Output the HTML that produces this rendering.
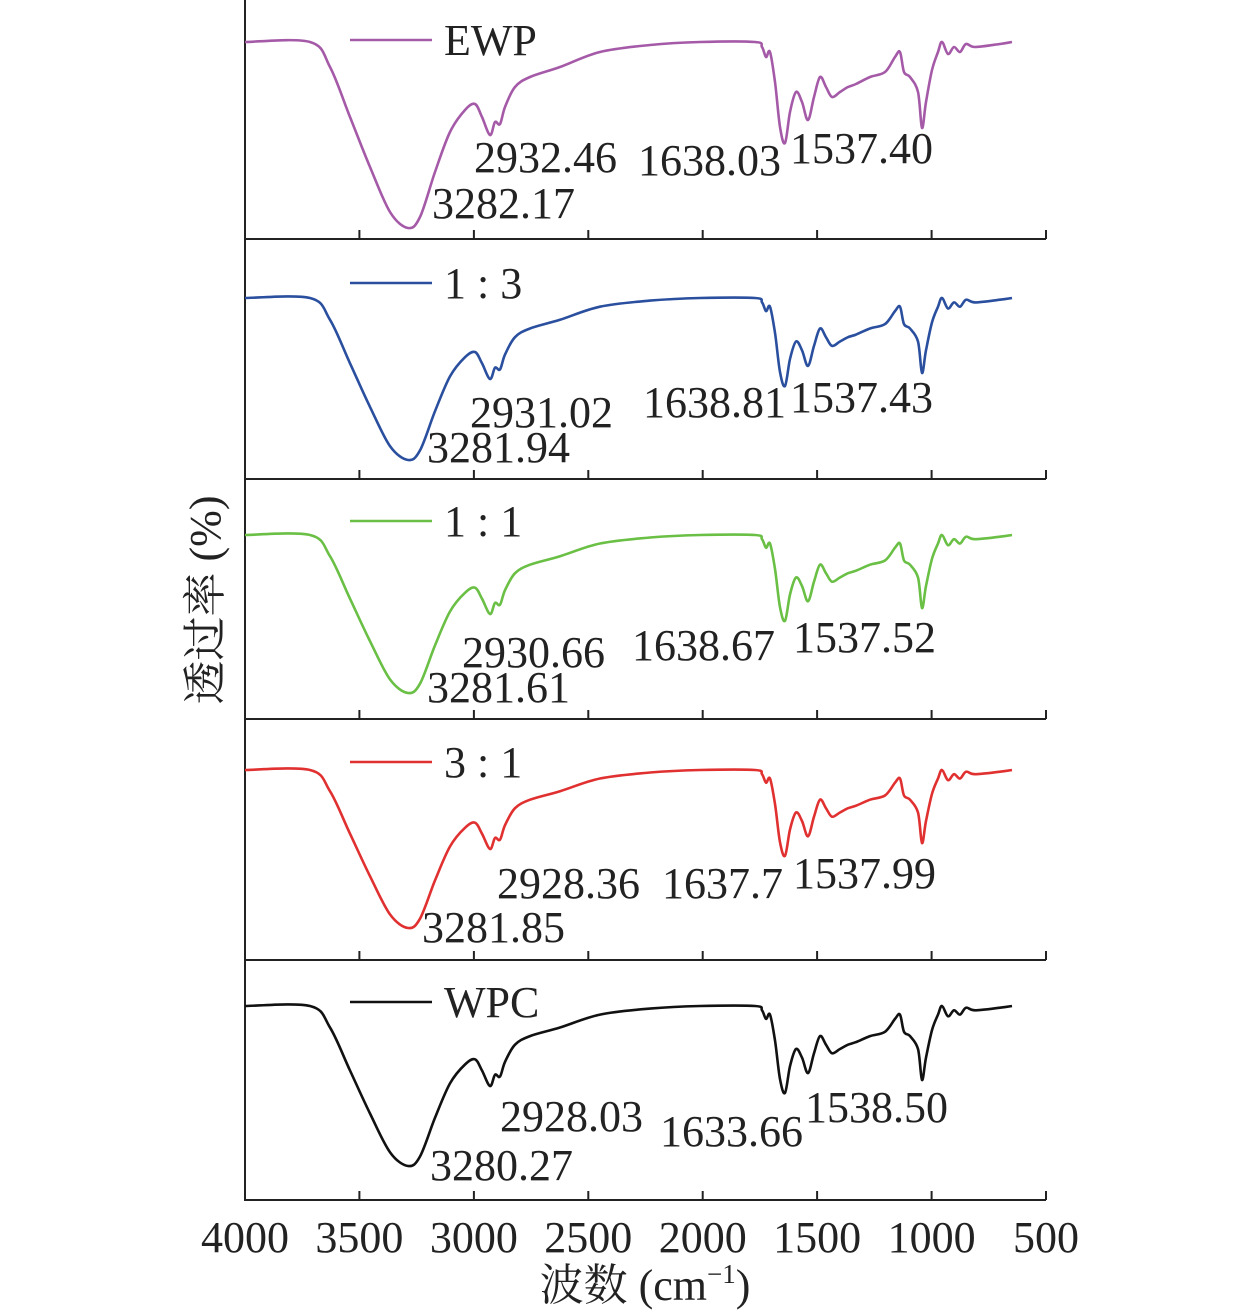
<!DOCTYPE html>
<html><head><meta charset="utf-8"><style>
html,body{margin:0;padding:0;background:#fff;}
svg{display:block;}
text{font-family:"Liberation Serif","Noto Serif CJK SC",serif;font-size:44px;fill:#222;}
</style></head><body>
<svg id="s" width="1260" height="1314" viewBox="0 0 1260 1314" xmlns="http://www.w3.org/2000/svg">
<g stroke="#222" stroke-width="2" fill="none" id="axes">
<line x1="245" y1="0" x2="245" y2="1201"/>
</g>
<g id="curves" fill="none" stroke-width="2.6" stroke-linejoin="round"></g>
<g id="txt"></g>
<text x="645" y="1300" text-anchor="middle">波数 (cm<tspan font-size="27" dy="-17">−1</tspan><tspan dy="17">)</tspan></text>
<text transform="translate(220,600) rotate(-90)" text-anchor="middle">透过率 (%)</text>
</svg>
<script>
var NS="http://www.w3.org/2000/svg";
function el(p,t,a,txt){var e=document.createElementNS(NS,t);for(var k in a)e.setAttribute(k,a[k]);if(txt)e.textContent=txt;p.appendChild(e);return e;}
var axes=document.getElementById('axes'),cur=document.getElementById('curves'),tx=document.getElementById('txt');
var lines=[239,479,719,960,1200];
var ticks=[359.4,473.9,588.3,702.7,817.1,931.6,1046];
lines.forEach(function(y){
 el(axes,'line',{x1:245,y1:y,x2:1046,y2:y});
 ticks.forEach(function(x){el(axes,'line',{x1:x,y1:y,x2:x,y2:y-9});});
});
var lab=["4000","3500","3000","2500","2000","1500","1000","500"];
[245,359.4,473.9,588.3,702.7,817.1,931.6,1046].forEach(function(x,i){el(tx,'text',{x:x,y:1252,'text-anchor':'middle'},lab[i]);});
var P=[[245,0],[310,0],[330,25],[350,75],[370,125],[390,170],[408,186],[420,175],[435,130],[450,90],[465,68],[475,62],[482,75],[490,93],[495,80],[500,82],[505,65],[515,45],[530,35],[560,25],[600,10],[650,3],[700,0],[755,0],[762,5],[766,15],[770,10],[775,40],[780,85],[785,101],[790,70],[796,50],[802,60],[808,78],[814,55],[820,35],[826,45],[832,55],[840,50],[848,45],[856,42],[870,35],[885,30],[895,15],[900,10],[904,30],[910,35],[918,50],[922,86],[926,60],[932,28],[938,10],[942,0],[948,12],[954,5],[960,10],[966,2],[975,5],[1000,2],[1012,0]];
var S=[
 {c:"#a55aa8",b:42,d:186,n:"EWP",ly:40,L:[["3282.17",432,218],["2932.46",474,172],["1638.03",638,175],["1537.40",790,163]]},
 {c:"#2a4f9e",b:298,d:162,n:"1 : 3",ly:283,L:[["3281.94",427,462],["2931.02",470,427],["1638.81",643,417],["1537.43",790,412]]},
 {c:"#6abf45",b:535,d:158,n:"1 : 1",ly:521,L:[["3281.61",427,702],["2930.66",462,667],["1638.67",632,660],["1537.52",793,652]]},
 {c:"#e03030",b:770,d:158,n:"3 : 1",ly:762,L:[["3281.85",422,942],["2928.36",497,898],["1637.7",662,898],["1537.99",793,888]]},
 {c:"#111",b:1006,d:160,n:"WPC",ly:1002,L:[["3280.27",430,1180],["2928.03",500,1131],["1633.66",660,1146],["1538.50",805,1122]]}
];
S.forEach(function(s){
 var k=s.d/186;
 var pts=P.map(function(p){return [p[0],s.b+p[1]*k];});
 var d="M"+pts[0][0]+","+pts[0][1].toFixed(1);
 for(var i=0;i<pts.length-1;i++){
  var p0=pts[i-1]||pts[i],p1=pts[i],p2=pts[i+1],p3=pts[i+2]||p2,t=0.5/3;
  var c1=[p1[0]+(p2[0]-p0[0])*t,p1[1]+(p2[1]-p0[1])*t],c2=[p2[0]-(p3[0]-p1[0])*t,p2[1]-(p3[1]-p1[1])*t];
  d+="C"+c1[0].toFixed(1)+","+c1[1].toFixed(1)+" "+c2[0].toFixed(1)+","+c2[1].toFixed(1)+" "+p2[0]+","+p2[1].toFixed(1);
 }
 el(cur,'path',{d:d,stroke:s.c});
 el(cur,'line',{x1:350,y1:s.ly,x2:432,y2:s.ly,stroke:s.c});
 el(tx,'text',{x:444,y:s.ly+15},s.n);
 s.L.forEach(function(l){el(tx,'text',{x:l[1],y:l[2]},l[0]);});
});
</script>
</body></html>
